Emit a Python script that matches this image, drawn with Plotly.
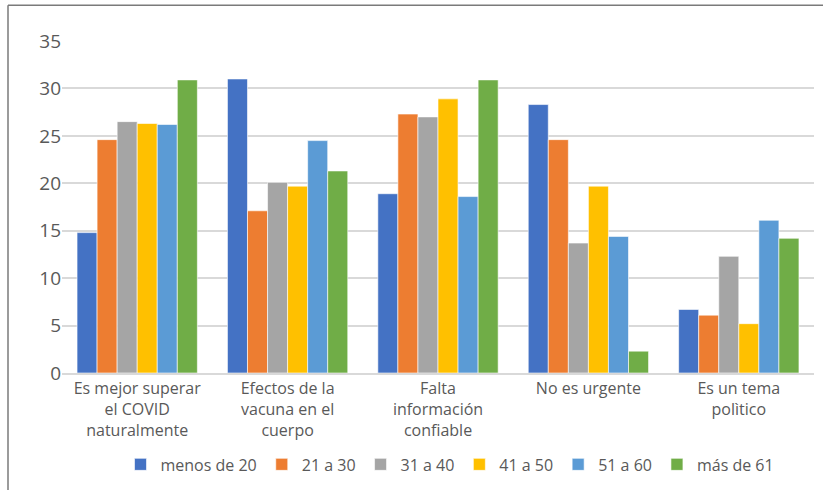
import plotly.graph_objects as go

categories = [
    "Es mejor superar<br>el COVID<br>naturalmente",
    "Efectos de la<br>vacuna en el<br>cuerpo",
    "Falta<br>información<br>confiable",
    "No es urgente",
    "Es un tema<br>polìtico",
]

series_names = ["menos de 20", "21 a 30", "31 a 40", "41 a 50", "51 a 60", "más de 61"]
menos_20 = [14.8, 31.0, 18.9, 28.3, 6.7]
de_21_30 = [24.6, 17.1, 27.3, 24.6, 6.1]
de_31_40 = [26.5, 20.1, 27.0, 13.7, 12.3]
de_41_50 = [26.3, 19.7, 28.9, 19.7, 5.2]
de_51_60 = [26.2, 24.5, 18.6, 14.4, 16.1]
mas_61 = [30.9, 21.3, 30.9, 2.3, 14.2]

series_values = [menos_20, de_21_30, de_31_40, de_41_50, de_51_60, mas_61]
colors = ["#4472C4", "#ED7D31", "#A5A5A5", "#FFC000", "#5B9BD5", "#70AD47"]

y_ticks = [0, 5, 10, 15, 20, 25, 30, 35]

W, H = 823, 490
L, R, T, B = 62, 9, 41, 115
FONT = "Open Sans"

fig = go.Figure()
for name, vals, col in zip(series_names, series_values, colors):
    fig.add_trace(go.Bar(
        x=categories, y=vals, name=name,
        marker=dict(color=col, line=dict(color="white", width=0.6)),
    ))

pw = W - L - R
ph = H - T - B

# outer frame: only top and left edges fall inside the canvas
fig.add_shape(type="line", xref="paper", yref="paper",
              x0=(8 - L) / pw, x1=(W + 10 - L) / pw,
              y0=(H - B - 5) / ph, y1=(H - B - 5) / ph,
              line=dict(color="#7a7a7a", width=1.5))
fig.add_shape(type="line", xref="paper", yref="paper",
              x0=(8 - L) / pw, x1=(8 - L) / pw,
              y0=(H - B - 5) / ph, y1=-(B + 10) / ph,
              line=dict(color="#7a7a7a", width=1.5))

fig.update_layout(
    width=W, height=H,
    margin=dict(l=L, r=R, t=T, b=B),
    paper_bgcolor="white", plot_bgcolor="white",
    barmode="group", bargap=0.2, bargroupgap=0,
    font=dict(family=FONT, color="#595959"),
    showlegend=True,
    legend=dict(
        orientation="h", x=(450 - L) / pw, xanchor="center",
        y=-(467 - (H - B)) / ph, yanchor="middle",
        font=dict(family=FONT, size=16, color="#595959"),
        traceorder="normal",
    ),
    xaxis=dict(
        tickfont=dict(family=FONT, size=16, color="#595959"),
        showline=True, linecolor="#D9D9D9", linewidth=1.5,
        ticks="", showgrid=False,
    ),
    yaxis=dict(
        range=[0, 35], tickvals=y_ticks,
        tickfont=dict(family=FONT, size=19, color="#595959"),
        showgrid=True, gridcolor="#D9D9D9", gridwidth=1.5,
        zeroline=False, showline=False, ticks="",
    ),
)

fig.write_html("out.html")
